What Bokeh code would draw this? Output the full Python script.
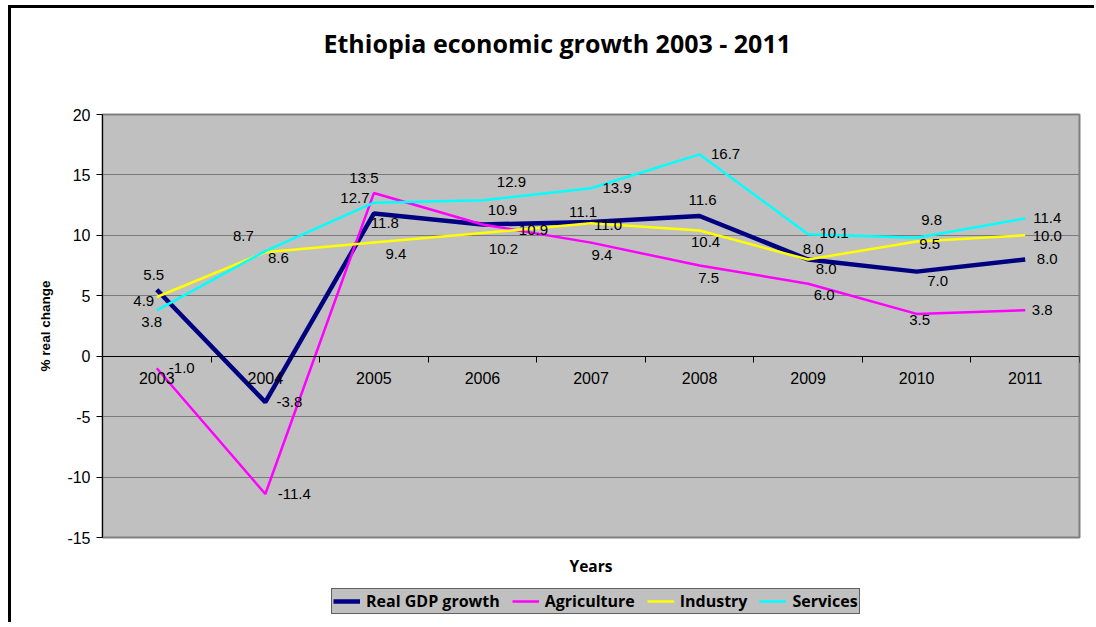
from bokeh.plotting import figure
from bokeh.layouts import column
from bokeh.models import Range1d, FixedTicker, ColumnDataSource, Legend, LegendItem, Title, Label
from bokeh.core.properties import value
from bokeh.embed import file_html
from bokeh.resources import INLINE

# ---- data ----
years = ["2003", "2004", "2005", "2006", "2007", "2008", "2009", "2010", "2011"]
gdp = [5.5, -3.8, 11.8, 10.9, 11.1, 11.6, 8.0, 7.0, 8.0]
agriculture = [-1.0, -11.4, 13.5, 10.9, 9.4, 7.5, 6.0, 3.5, 3.8]
industry = [4.9, 8.6, 9.4, 10.2, 11.0, 10.4, 8.0, 9.5, 10.0]
services = [3.8, 8.7, 12.7, 12.9, 13.9, 16.7, 10.1, 9.8, 11.4]
series_names = ["Real GDP growth", "Agriculture", "Industry", "Services"]
y_ticks = [-15, -10, -5, 0, 5, 10, 15, 20]

# ---- style ----
colors = ["#000080", "#FF00FF", "#FFFF00", "#00FFFF"]
widths = [4.5, 2.5, 2.5, 2.5]
# data-label pixel offsets (dx, dy) per series, per year
label_offsets = [
    [(-3, -15), (24, 0), (11, 9), (20, -14), (-8, -10), (3, -16), (18, 9), (21, 9), (22, -1)],
    [(25, 0), (29, 0), (-10, -15), (51, 6), (11, 12), (9, 12), (16, 11), (3, 6), (17, 0)],
    [(-13, 4), (13, 6), (22, 11), (21, 16), (17, 2), (6, 11), (5, -11), (13, 3), (22, 1)],
    [(-5, 12), (-22, -15), (-19, -5), (29, -18), (26, 0), (26, 0), (26, -1), (15, -18), (22, 0)],
]

xs = [i + 1 for i in range(len(years))]
W = 1083

# ================= main chart =================
p = figure(width=W, height=537,
           x_range=Range1d(0.5, len(years) + 0.5), y_range=Range1d(y_ticks[0], y_ticks[-1]),
           output_backend="svg", toolbar_location=None,
           min_border_left=91, min_border_top=106, min_border_right=15, min_border_bottom=8,
           background_fill_color="#C0C0C0", border_fill_color="white")
p.outline_line_color = "#808080"
p.outline_line_width = 2

xa = p.xaxis[0]
xa.ticker = FixedTicker(ticks=xs, minor_ticks=[x - 0.5 for x in xs] + [xs[-1] + 0.5])
xa.major_label_overrides = {x: y for x, y in zip(xs, years)}
xa.fixed_location = 0
xa.major_tick_in = 0
xa.major_tick_out = 0
xa.minor_tick_in = 0
xa.minor_tick_out = 6
xa.minor_tick_line_color = "black"
xa.axis_line_color = "black"
xa.major_label_standoff = 10
xa.major_label_text_font = "Liberation Sans"
xa.major_label_text_font_size = "16px"
xa.major_label_text_color = "black"

ya = p.yaxis[0]
ya.ticker = FixedTicker(ticks=y_ticks)
ya.major_label_overrides = {t: str(t) for t in y_ticks}
ya.major_tick_in = 0
ya.major_tick_out = 6
ya.major_tick_line_color = "black"
ya.axis_line_color = "black"
ya.major_label_standoff = 6
ya.major_label_text_font = "Liberation Sans"
ya.major_label_text_font_size = "16px"
ya.major_label_text_color = "black"
ya.axis_label = "% real change"
ya.axis_label_text_font = "Liberation Sans"
ya.axis_label_text_font_style = "bold"
ya.axis_label_text_font_size = "13.5px"
ya.axis_label_text_color = "black"
ya.axis_label_standoff = 11

p.xgrid.visible = False
p.ygrid.ticker = FixedTicker(ticks=y_ticks)
p.ygrid.grid_line_color = "#7a7a7a"
p.ygrid.grid_line_width = 1

series_values = [gdp, agriculture, industry, services]
for name, vals, c, w in zip(series_names, series_values, colors, widths):
    src = ColumnDataSource(dict(x=xs, y=vals))
    p.line("x", "y", source=src, line_color=c, line_width=w)

for vals, offs in zip(series_values, label_offsets):
    src = ColumnDataSource(dict(x=xs, y=vals, t=["%.1f" % v for v in vals],
                                dx=[o[0] for o in offs], dy=[o[1] for o in offs]))
    p.text("x", "y", text="t", source=src, x_offset="dx", y_offset="dy",
           text_align="center", text_baseline="middle",
           text_font=value("Liberation Sans"), text_font_size="15px", text_color="black")

spacer = Title(text=" ", text_font_size="1px", standoff=51)
p.add_layout(spacer, "above")
main_title = Title(text="Ethiopia economic growth 2003 - 2011", align="left", offset=221,
                   vertical_align="middle", standoff=0,
                   text_font="Open Sans", text_font_style="bold", text_font_size="25px",
                   text_color="black")
p.add_layout(main_title, "above")

# ================= bottom strip: axis title + legend =================
# (frame of this strip is aligned with the main chart's frame by the column layout)
pb = figure(width=W, height=77, x_range=Range1d(-2, -1), y_range=Range1d(-100, -99),
            output_backend="svg", toolbar_location=None,
            x_axis_location=None, y_axis_location=None,
            min_border_left=0, min_border_right=0, min_border_top=0, min_border_bottom=0,
            background_fill_color="white", border_fill_color="white")
pb.outline_line_color = None
pb.xgrid.visible = False
pb.ygrid.visible = False

items = []
for name, vals, c, w in zip(series_names, series_values, colors, widths):
    # same series, drawn outside this strip's ranges: only its legend glyph shows
    r = pb.line(x=xs, y=vals, line_color=c, line_width=w)
    items.append(LegendItem(label=name, renderers=[r]))

legend = Legend(items=items, orientation="horizontal", location=(229, 8),
                background_fill_color="#C0C0C0", background_fill_alpha=1,
                border_line_color="black", border_line_width=1,
                label_text_font="Open Sans", label_text_font_style="bold",
                label_text_font_size="16px", label_text_color="black",
                glyph_width=27, glyph_height=16, label_height=16, label_standoff=6,
                spacing=12, padding=1, margin=0)
pb.add_layout(legend)

years_lbl = Label(x=488.5, y=57, x_units="screen", y_units="screen", text="Years",
                  text_align="center", text_baseline="middle", text_font="Open Sans",
                  text_font_style="bold", text_font_size="15.5px", text_color="black")
pb.add_layout(years_lbl)

layout = column(p, pb, spacing=0)
layout.styles = {"margin-left": "8px", "margin-top": "5px",
                 "border-left": "3px solid black", "border-top": "3px solid black"}

open("out.html", "w").write(file_html(layout, INLINE))
